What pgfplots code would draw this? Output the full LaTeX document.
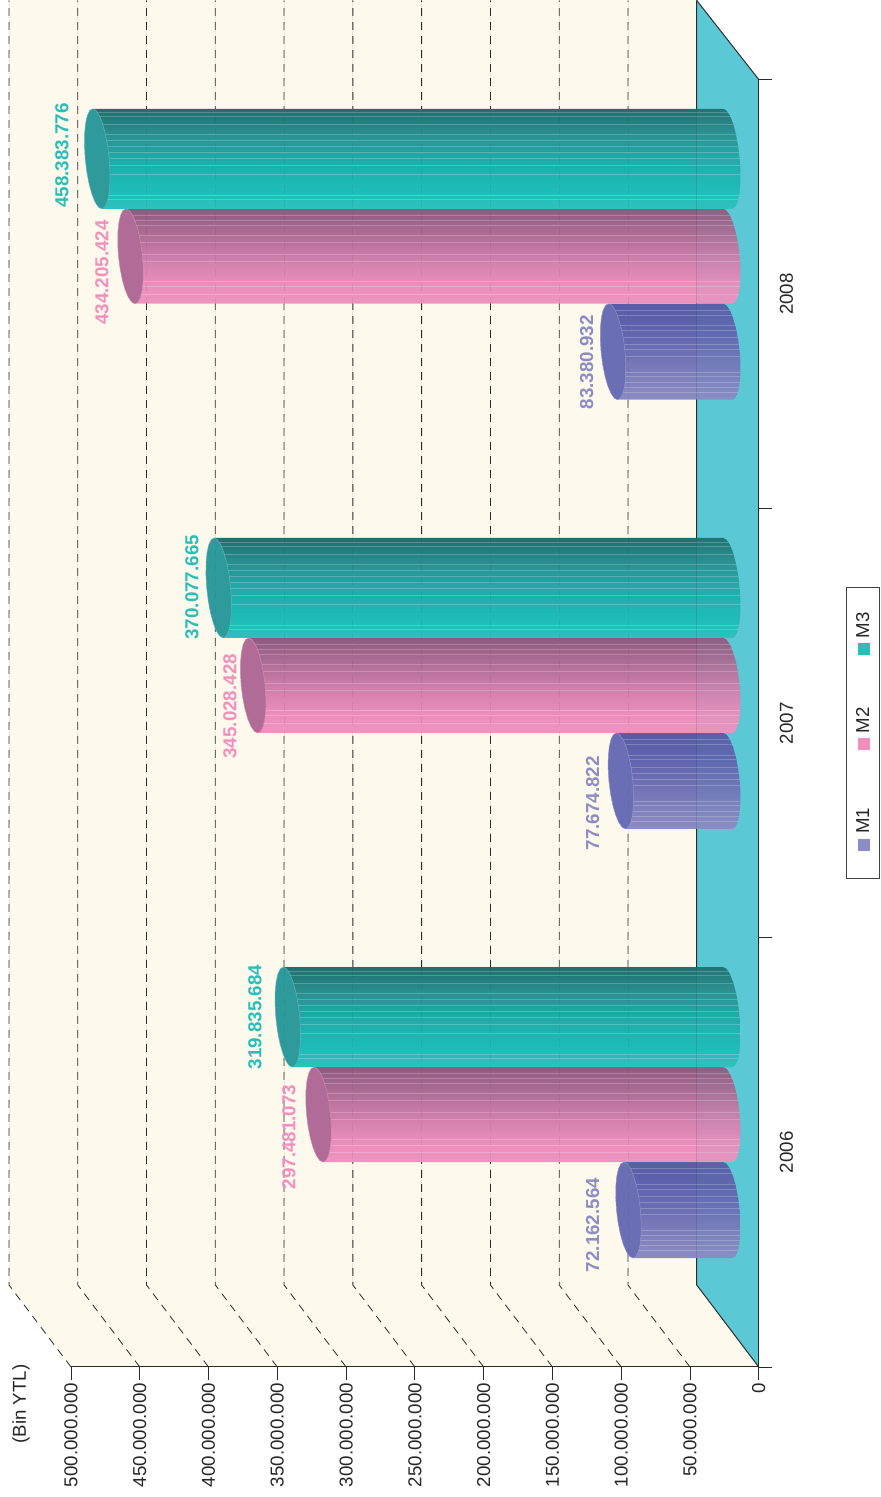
\documentclass[border=0pt]{standalone}
\usepackage{pgfplots}
\usepackage{pgfplotstable}
\usepackage{fontspec}
\setmainfont{Liberation Sans}
\pgfplotsset{compat=1.18}
\definecolor{wallc}{HTML}{FDF9EC}
\definecolor{floorc}{HTML}{5BC8D5}
\definecolor{lineC}{HTML}{2A2A2A}
\definecolor{lab1}{HTML}{8C8DC3}
\definecolor{lab2}{HTML}{F28FBD}
\definecolor{lab3}{HTML}{28BFB9}
\definecolor{tip1}{HTML}{6A6FB5}
\definecolor{tip2}{HTML}{B06B96}
\definecolor{tip3}{HTML}{2F9A9C}
\definecolor{a0}{HTML}{1F6F6E}\definecolor{a1}{HTML}{2A8F90}\definecolor{a2}{HTML}{20AAA9}\definecolor{a3}{HTML}{1CBCB8}\definecolor{a4}{HTML}{2FC0BD}
\definecolor{b0}{HTML}{8F5A7F}\definecolor{b1}{HTML}{AD6C93}\definecolor{b2}{HTML}{CC7DAA}\definecolor{b3}{HTML}{EC8EBC}\definecolor{b4}{HTML}{EE93BF}
\definecolor{c0}{HTML}{585CA6}\definecolor{c1}{HTML}{5F63AD}\definecolor{c2}{HTML}{6D6FB4}\definecolor{c3}{HTML}{7E7FBC}\definecolor{c4}{HTML}{8C8CC3}
\pgfdeclareverticalshading{cylA}{100bp}{color(0bp)=(a4);color(25bp)=(a4);color(35bp)=(a3);color(50bp)=(a2);color(62.5bp)=(a1);color(75bp)=(a0);color(100bp)=(a0)}
\pgfdeclareverticalshading{cylB}{100bp}{color(0bp)=(b4);color(25bp)=(b4);color(35bp)=(b3);color(50bp)=(b2);color(62.5bp)=(b1);color(75bp)=(b0);color(100bp)=(b0)}
\pgfdeclareverticalshading{cylC}{100bp}{color(0bp)=(c4);color(25bp)=(c4);color(37.5bp)=(c3);color(50bp)=(c2);color(62.5bp)=(c1);color(75bp)=(c0);color(100bp)=(c0)}
% unit outlines of a cylinder (e=1 at the value end, e=0 at the base)
\pgfplotstableread{
e u v
1 0 -1
1 0 1
0 0 1
0 .259 .966
0 .5 .866
0 .707 .707
0 .866 .5
0 .966 .259
0 1 0
0 .966 -.259
0 .866 -.5
0 .707 -.707
0 .5 -.866
0 .259 -.966
0 0 -1
1 0 -1
}\bodyT
\pgfplotstableread{
u v
1 0
.966 .259
.866 .5
.707 .707
.5 .866
.259 .966
0 1
-.259 .966
-.5 .866
-.707 .707
-.866 .5
-.966 .259
-1 0
-.966 -.259
-.866 -.5
-.707 -.707
-.5 -.866
-.259 -.966
0 -1
.259 -.966
.5 -.866
.707 -.707
.866 -.5
.966 -.259
1 0
}\tipT
\pgfplotstableread{
e d
0 0
1 0
}\stripeT
% #1 value (millions), #2 y centre, #3 half height, #4 shading, #5 tip colour, #6 stripe fractions
\newcommand\cyl[6]{%
  \addplot[draw=none,shading=#4,forget plot] table[x expr={#1*\thisrow{e}+22.53-8.7*\thisrow{u}-3.27*\thisrow{v}},y expr={#2-#3*\thisrow{v}}]{\bodyT};
  \expandafter\pgfplotsinvokeforeach\expandafter{#6}{%
    \addplot[draw=white,draw opacity=.22,line width=.7pt,forget plot] table[x expr={#1*\thisrow{e}+22.53-8.7*(1-\thisrow{e})*sqrt(1-(2*##1-1)^2)-3.27*(2*##1-1)},y expr={#2-#3*(2*##1-1)}]{\stripeT};
  }
  \addplot[fill=#5,draw=#5!75!white,line width=.5pt,forget plot] table[x expr={#1+22.53-8.7*\thisrow{u}-3.27*\thisrow{v}},y expr={#2-#3*\thisrow{v}}]{\tipT};
}
\newcommand\PX[2]{(axis cs:{(759-(#1))/1.376},{2.5-((#2)-79)/429.33})}
\newcommand\fs{\fontsize{18.7}{20}\selectfont}
\newcommand\fb{\fontsize{18.8}{20}\selectfont\bfseries}
\def\sA{.04,.08,.16,.26,.32,.38,.44,.50,.57,.66,.87,.91}
\def\sB{.07,.12,.17,.28,.35,.48,.55,.76,.82,.90}
\def\sC{.07,.12,.23,.28,.355,.42,.48,.545,.71,.76,.82,.87,.92}
\begin{document}
\begin{tikzpicture}
\begin{axis}[
  scale only axis,width=688pt,height=1288pt,
  x dir=reverse,xmin=0,xmax=500,ymin=-0.5,ymax=2.5,
  clip=false,axis on top,
  axis x line=bottom,axis y line=right,
  axis line style={-,draw=lineC,line width=1pt},
  tick align=outside,
  xtick={0,50,...,500},
  xticklabels={0,50.000.000,100.000.000,150.000.000,200.000.000,250.000.000,300.000.000,350.000.000,400.000.000,450.000.000,500.000.000},
  xticklabel style={rotate=90,anchor=east,font=\fs,text=black!85,inner sep=3pt},
  major x tick style={draw=lineC,line width=.8pt},
  major tick length=13pt,
  ytick={0,1,2},yticklabels={2006,2007,2008},
  major y tick style={draw=none},
  minor ytick={-.5,.5,1.5,2.5},
  minor tick length=13pt,
  minor y tick style={draw=lineC,line width=.8pt},
  yticklabel style={rotate=90,anchor=north,font=\fs,text=black!85,inner sep=1pt,yshift=-7pt},
]
% page extent
\path (axis cs:551.6,-0.803) rectangle (axis cs:-88.66,2.684);
% wall and floor
\addplot[fill=wallc,draw=none,forget plot] coordinates {(0,-.5)(500,-.5)(545.06,-.309)(545.06,2.684)(45.06,2.684)(45.06,-.309)(0,-.5)};
\addplot[fill=floorc,draw=none,forget plot] coordinates {(0,-.5)(45.06,-.309)(45.06,2.684)(0,2.5)(0,-.5)};
\pgfplotsinvokeforeach{50,100,...,500}{%
  \addplot[draw=lineC,line width=.8pt,dash pattern=on 8pt off 6pt,forget plot] coordinates {(#1,-.5)({#1+45.06},-.309)({#1+45.06},2.684)};
}
\addplot[draw=lineC,line width=1pt,forget plot] coordinates {(0,-.5)(45.06,-.309)(45.06,2.684)};
\addplot[draw=lineC,line width=1pt,forget plot] coordinates {(45.06,2.684)(0,2.5)};
% cylinders
\cyl{72.162564}{-.1344}{.1118}{cylC}{tip1}{\sC}
\cyl{297.481073}{.0880}{.1106}{cylB}{tip2}{\sB}
\cyl{319.835684}{.3151}{.1165}{cylA}{tip3}{\sA}
\cyl{77.674822}{.8656}{.1118}{cylC}{tip1}{\sC}
\cyl{345.028428}{1.0880}{.1106}{cylB}{tip2}{\sB}
\cyl{370.077665}{1.3151}{.1165}{cylA}{tip3}{\sA}
\cyl{83.380932}{1.8656}{.1118}{cylC}{tip1}{\sC}
\cyl{434.205424}{2.0880}{.1106}{cylB}{tip2}{\sB}
\cyl{458.383776}{2.3151}{.1165}{cylA}{tip3}{\sA}
% faint show-through of the wall and floor
\addplot[fill=floorc,fill opacity=.06,draw=none,forget plot] coordinates {(0,-.5)(45.06,-.309)(45.06,2.684)(0,2.5)(0,-.5)};
\pgfplotsinvokeforeach{50,100,...,500}{%
  \addplot[draw=lineC,draw opacity=.08,line width=.8pt,dash pattern=on 8pt off 6pt,forget plot] coordinates {({#1+45.06},-.309)({#1+45.06},2.684)};
}
\addplot[draw=lineC,draw opacity=.15,line width=.8pt,forget plot] coordinates {(45.06,-.309)(45.06,2.684)};
% value labels
\begin{scope}[every node/.style={rotate=90,font=\fb,inner sep=0pt}]
\node[text=lab1] at \PX{593}{1225} {72.162.564};
\node[text=lab2] at \PX{289}{1137} {297.481.073};
\node[text=lab3] at \PX{255}{1017} {319.835.684};
\node[text=lab1] at \PX{593}{803} {77.674.822};
\node[text=lab2] at \PX{230}{706} {345.028.428};
\node[text=lab3] at \PX{192}{587} {370.077.665};
\node[text=lab1] at \PX{587}{362} {83.380.932};
\node[text=lab2] at \PX{102}{272} {434.205.424};
\node[text=lab3] at \PX{62}{155} {458.383.776};
\end{scope}
\node[rotate=90,font=\fs,text=black!85,inner sep=0pt] at \PX{21}{1404} {(Bin YTL)};
% legend
\draw[draw=black!75,line width=.9pt,fill=white] \PX{847}{587} rectangle \PX{880}{878};
\fill[lab1] \PX{858}{839} rectangle \PX{870}{851};
\fill[lab2] \PX{858}{738} rectangle \PX{870}{750};
\fill[lab3] \PX{858}{643} rectangle \PX{870}{655};
\begin{scope}[every node/.style={rotate=90,anchor=west,font=\fs,text=black!85,inner sep=0pt}]
\node at \PX{863}{834} {M1};
\node at \PX{863}{733} {M2};
\node at \PX{863}{638} {M3};
\end{scope}
\end{axis}
\end{tikzpicture}
\end{document}
